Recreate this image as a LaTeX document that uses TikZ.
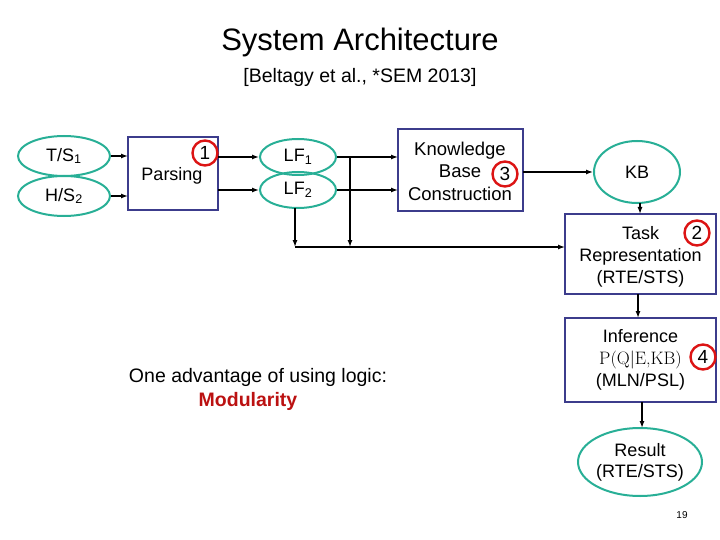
\documentclass[tikz,border=0pt]{standalone}
\usepackage{fontspec}
\setmainfont{Liberation Sans}
\usetikzlibrary{arrows.meta,shapes.geometric}
\definecolor{ellc}{RGB}{40,175,150}
\definecolor{boxc}{RGB}{60,60,140}
\definecolor{numc}{RGB}{220,20,20}
\begin{document}
\begin{tikzpicture}[x=1pt,y=-1pt,
  ell/.style={draw=ellc,line width=2pt,ellipse,inner sep=0pt,font=\fontsize{18}{21}\selectfont},
  box/.style={draw=boxc,line width=1.4pt,align=center,font=\fontsize{18}{22}\selectfont},
  num/.style={draw=numc,line width=2.4pt,circle,minimum size=25pt,inner sep=0pt,font=\fontsize{19}{20}\selectfont},
  arr/.style={-{Latex[length=7pt,width=5pt]},line width=1.3pt}]
\useasboundingbox (0,0) rectangle (720,540);
\node at (360,42) {\fontsize{31}{34}\selectfont System Architecture};
\node at (360,77) {\fontsize{19.5}{22}\selectfont [Beltagy et al., *SEM 2013]};
% inputs
\node[ell,minimum width=92pt,minimum height=40pt] (ts) at (64,156) {T/S\textsubscript{1}};
\node[ell,minimum width=92pt,minimum height=40pt] (hs) at (64,196) {H/S\textsubscript{2}};
\draw[box] (128,137) rectangle (218,210);
\coordinate (pl1) at (128,156); \coordinate (pl2) at (128,196);
\coordinate (pr1) at (218,157); \coordinate (pr2) at (218,190);
\node[font=\fontsize{18}{20}\selectfont] (pars) at (172,176) {Parsing};
\node[num] (n1) at (205,153) {1};
\node[ell,minimum width=76pt,minimum height=36pt] (lf1) at (298,157) {LF\textsubscript{1}};
\node[ell,minimum width=76pt,minimum height=36pt] (lf2) at (298,190) {LF\textsubscript{2}};
\draw[box] (398,129) rectangle (523,211);
\node[font=\fontsize{18.5}{22.5}\selectfont,align=center] (kbc) at (460,171) {Knowledge\\Base\hspace{22pt}\\Construction};
\node[num] (n3) at (505,174) {3};
\coordinate (kl1) at (398,157); \coordinate (kl2) at (398,190); \coordinate (kr) at (523,172);
\node[ell,minimum width=86pt,minimum height=62pt] (kb) at (637,172) {KB};
\node[box,minimum width=151pt,minimum height=80pt] (task) at (640.5,254) {\\[-4pt]Task\\Representation\\(RTE/STS)};
\node[num] (n2) at (697,233) {2};
\node[box,minimum width=151pt,minimum height=84pt] (inf) at (640.5,360) {Inference\\{\fontfamily{lmr}\selectfont P(Q|E,KB)}\hspace{18pt}\\(MLN/PSL)};
\node[num] (n4) at (703,357) {4};
\node[ell,minimum width=100pt,minimum height=68pt,align=center] (res) at (640,462) {Result\\(RTE/STS)};
% connectors
\draw[arr] (ts) -- (pl1);
\draw[arr] (hs) -- (pl2);
\draw[arr] (pr1) -- (lf1);
\draw[arr] (pr2) -- (lf2);
\draw[arr] (lf1) -- (kl1);
\draw[arr] (lf2) -- (kl2);
\draw[arr] (kr) -- (kb);
\coordinate (j1) at (350,157); \coordinate (j1b) at (350,247);
\coordinate (j2) at (295,208); \coordinate (j2b) at (295,247);
\coordinate (tw) at (565,247);
\draw[arr] (j1) -- (j1b);
\draw[arr] (j2) -- (j2b);
\draw[arr] (j2b) -- (tw);
\coordinate (a1) at (640,203); \coordinate (a2) at (640,214);
\coordinate (b1) at (638,294); \coordinate (b2) at (638,318);
\coordinate (c1) at (642,402); \coordinate (c2) at (642,428);
\draw[arr] (a1) -- (a2);
\draw[arr] (b1) -- (b2);
\draw[arr] (c1) -- (c2);
\node[font=\fontsize{19.5}{22}\selectfont] at (258,377) {One advantage of using logic:};
\node[font=\fontsize{19.5}{22}\selectfont\bfseries,text=numc!85!black] at (248,401) {Modularity};
\node[font=\fontsize{10}{11}\selectfont] at (682,515) {19};
\end{tikzpicture}
\end{document}
